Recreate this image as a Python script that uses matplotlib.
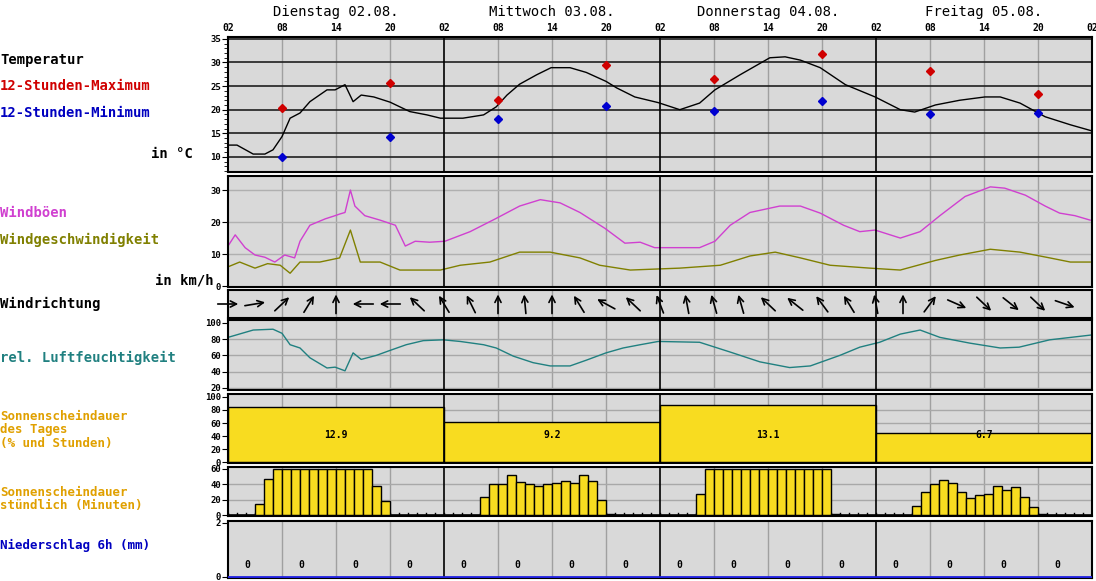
import matplotlib.pyplot as plt
import numpy as np

W, H = 1096, 581
plt.rcParams['font.family'] = ['DejaVu Sans Mono']
plt.rcParams['font.weight'] = 'bold'

days = ['Dienstag 02.08.', 'Mittwoch 03.08.', 'Donnerstag 04.08.', 'Freitag 05.08.']
hour_labels = ['02', '08', '14', '20']

# temperature, hours since Tue 02:00
temp_h = [0, 1, 2.8, 4.1, 5, 6, 6.9, 8, 9.1, 11, 11.9, 13, 13.9, 14.8, 16.2, 18, 20.2, 22.1, 23.6,
          26.1, 28.4, 29.8, 31, 32.4, 34.3, 35.9, 38, 39.8, 42, 43.2, 45.2, 47.8,
          50.2, 52.4, 54.1, 56.9, 60.2, 61.9, 63.6, 65.8, 68.6, 71.9, 74.7, 76.3, 78.6,
          81.3, 84.1, 85.8, 88, 90.8, 93.6, 96]
temp_v = [12.5, 12.5, 10.6, 10.6, 11.5, 14.3, 18.2, 19.3, 21.7, 24.2, 24.2, 25.3, 21.7, 23.1, 22.7, 21.6, 19.6, 18.9, 18.2,
          18.2, 18.9, 20.6, 23.1, 25.4, 27.4, 28.9, 28.9, 27.9, 26.0, 24.6, 22.7, 21.5,
          20.0, 21.4, 24.2, 27.4, 31.0, 31.2, 30.5, 28.9, 25.3, 22.7, 20.0, 19.5, 21.0,
          22.0, 22.7, 22.7, 21.4, 18.5, 16.8, 15.5]
ext_h = [6, 18, 30, 42, 54, 66, 78, 90]
tmax = [20.3, 25.6, 22.0, 29.5, 26.5, 31.8, 28.2, 23.3]
tmin = [10.0, 14.3, 18.0, 20.8, 19.8, 21.9, 19.0, 19.2]

# wind in km/h
gust_h = [0, 0.8, 1.9, 3, 4.1, 5.2, 6.3, 7.4, 8, 9.1, 10.8, 11.9, 12.4, 13, 13.6, 14.1, 15.2, 16.9, 18.6, 19.7,
          20.8, 22.4, 24.1, 26.9, 29.7, 32.4, 34.7, 36.9, 39.1, 41.9, 44.1, 45.8, 47.4, 49.1, 52.4, 54.1, 55.8,
          58, 61.3, 63.6, 65.8, 68.4, 70.2, 71.9, 74.7, 76.9, 79.1, 81.9, 84.7, 86.3, 88.6, 90.8, 92.4, 94.1, 95.8]
gust_v = [12.5, 16, 12, 9.7, 9, 7.5, 9.7, 8.8, 14, 19, 21, 22, 22.5, 23, 30, 25, 22, 20.6, 19,
          12.5, 14, 13.7, 14, 17, 21, 25, 27, 26, 23, 18, 13.4, 13.7, 12, 12, 12, 14, 19,
          23, 25, 25, 22.8, 19, 17, 17.5, 15, 17, 22, 28, 31, 30.6, 28.4, 25, 22.8, 22, 20.6]
speed_h = [0, 1.3, 3, 4.4, 5.8, 6.9, 8, 10.2, 12.4, 13.6, 14.7, 16.9, 19.1, 23.6, 25.8, 29.1, 32.4, 35.8,
           39.1, 41.3, 44.7, 50.2, 54.7, 58, 60.8, 63.6, 66.9, 71.3, 74.7, 78.6, 81.3, 84.7, 88, 91.3, 93.6, 95.8]
speed_v = [6, 7.5, 5.6, 7, 6.5, 4, 7.5, 7.5, 8.8, 17.5, 7.5, 7.5, 5, 5, 6.5, 7.5, 10.6, 10.6,
           8.8, 6.5, 5, 5.6, 6.5, 9.4, 10.6, 8.8, 6.5, 5.6, 5, 8, 9.7, 11.5, 10.6, 8.8, 7.5, 7.5]

# wind direction arrows every 3 h (direction of travel, degrees, 0 = east, 90 = north)
dir_h = list(range(0, 97, 3))
dir_deg = [0, 10, 45, 60, 90, 180, 180, 135, 120,
           115, 90, 95, 90, 120, 150, 135, 110,
           100, 105, 105, 135, 140, 125, 120, 100,
           90, 55, -25, -45, -40, -45, -20, 0]

# relative humidity %
hum_h = [0, 2.8, 5, 6, 6.9, 8, 9.1, 11, 11.9, 13, 13.9, 14.8, 16.5, 18, 19.8, 21.7, 23.9, 25.8, 28.4, 29.8,
         31.7, 33.9, 35.8, 38, 39.8, 42, 43.9, 45.8, 47.8, 52.4, 55.8, 59.1, 62.4, 64.7, 68, 70.2, 72.4,
         74.7, 76.9, 79.1, 82.4, 85.8, 87.9, 91.3, 96]
hum_v = [82, 91, 92, 87, 73, 69, 57, 44.5, 45.5, 41, 63, 55, 60, 66, 73, 78, 79, 77, 73, 69,
         59, 51, 47, 47, 54, 63, 69, 73, 77, 76, 64, 52, 45, 47, 60, 70, 76,
         86, 91, 82, 75, 69, 70, 79, 85]

# sunshine
sun_day_pct = [85, 61, 88, 45]
sun_day_hours = ['12.9', '9.2', '13.1', '6.7']
sun_hour_start = [3, 28, 52, 76]
sun_hour_min = [
    [15, 47, 60, 60, 60, 60, 60, 60, 60, 60, 60, 60, 60, 38, 18],
    [24, 40, 40, 52, 43, 41, 38, 40, 42, 44, 42, 52, 44, 20, 1],
    [28, 60, 60, 60, 60, 60, 60, 60, 60, 60, 60, 60, 60, 60, 60, 1],
    [12, 30, 40, 46, 42, 30, 22, 26, 28, 38, 32, 36, 24, 10, 1],
]
precip_h = [2.1 + 6 * i for i in range(16)]
precip_mm = [0] * 16

BG = '#d9d9d9'
fig = plt.figure(figsize=(W / 100, H / 100), dpi=100)
X0, X1 = 228, 1092


def panel(top, bot, ylim):
    ax = fig.add_axes([X0 / W, 1 - bot / H, (X1 - X0) / W, (bot - top) / H])
    ax.set_facecolor(BG)
    ax.set_xlim(0, 96)
    ax.set_ylim(*ylim)
    ax.set_xticks([])
    for s in ax.spines.values():
        s.set_linewidth(1.5)
    for h in range(6, 96, 6):
        if h % 24:
            ax.axvline(h, color='#a0a0a0', lw=1, zorder=0.5)
    for h in (24, 48, 72):
        ax.axvline(h, color='black', lw=1.2, zorder=3)
    ax.tick_params(axis='y', labelsize=6.5, length=4, pad=1)
    return ax


# temperature
ax = panel(37, 172, (6.8, 35.4))
ax.set_yticks(range(10, 36, 5))
ax.set_yticks(range(7, 36), minor=True)
ax.tick_params(axis='y', which='minor', length=3)
for v in range(10, 36, 5):
    ax.axhline(v, color='#202020', lw=1.2, zorder=0.6)
ax.plot(temp_h, temp_v, color='black', lw=1)
ax.plot(ext_h, tmax, 'D', color='#d00000', ms=4, zorder=4)
ax.plot(ext_h, tmin, 'D', color='#0000d0', ms=4, zorder=4)
for i, d in enumerate(days):
    ax.text(24 * i + 12, 40.6, d, ha='center', va='center', fontsize=10,
            fontweight='normal', clip_on=False)
for i in range(5):
    for j, hl in enumerate(hour_labels):
        h = 24 * i + 6 * j
        if h <= 96:
            ax.text(h, 36.3, hl, ha='center', va='bottom', fontsize=7, clip_on=False)

# wind
ax = panel(176, 287, (-0.3, 34.4))
ax.set_yticks([0, 10, 20, 30])
for v in (10, 20, 30):
    ax.axhline(v, color='#b0b0b0', lw=1, zorder=0.6)
ax.plot(gust_h, gust_v, color='#d040d0', lw=1)
ax.plot(speed_h, speed_v, color='#808000', lw=1)

# direction
ax = panel(290, 318, (0, 1))
ax.set_yticks([])
for h, d in zip(dir_h, dir_deg):
    dx = np.cos(np.radians(d)) * 1.45
    dy = np.sin(np.radians(d)) * 0.44
    ax.annotate('', xy=(h + dx, 0.5 + dy), xytext=(h - dx, 0.5 - dy),
                arrowprops=dict(arrowstyle='->', color='black', lw=1.2, mutation_scale=11), annotation_clip=True)

# humidity
ax = panel(320, 390, (17.5, 103.3))
ax.set_yticks([20, 40, 60, 80, 100])
for v in (20, 40, 60, 80):
    ax.axhline(v, color='#a8a8a8', lw=1, zorder=0.6)
ax.plot(hum_h, hum_v, color='#208080', lw=1)

# daily sunshine
ax = panel(394, 463, (-1.5, 104.6))
ax.set_yticks(range(0, 101, 20))
for v in range(20, 100, 20):
    ax.axhline(v, color='#a8a8a8', lw=1, zorder=0.6)
ax.bar([24 * i for i in range(4)], sun_day_pct, width=24, align='edge', color='#f8dc20',
       edgecolor='black', lw=1, zorder=2)
for i, t in enumerate(sun_day_hours):
    ax.text(24 * i + 12, 42, t, ha='center', va='center', fontsize=7, zorder=4)

# hourly sunshine
ax = panel(467, 516, (-1.3, 62.6))
ax.set_yticks([0, 20, 40, 60])
for v in (20, 40):
    ax.axhline(v, color='#a8a8a8', lw=1, zorder=0.6)
ax.axhline(0, color='black', lw=1.2, zorder=1)
for h in range(97):
    ax.plot([h, h], [0, 2.5], color='black', lw=1, zorder=1)
for s, vals in zip(sun_hour_start, sun_hour_min):
    ax.bar(np.arange(s, s + len(vals)), vals, width=1, align='edge', color='#f8dc20',
           edgecolor='black', lw=1, zorder=2)

# precipitation
ax = panel(521, 578, (-0.04, 2.07))
ax.set_yticks([0, 2])
ax.axhline(0, color='#2020e0', lw=2, zorder=4)
for h, v in zip(precip_h, precip_mm):
    ax.text(h, 0.45, str(v), ha='center', va='center', fontsize=7)

# left labels
def label(y, s, c='black', x=0, ha='left', fs=10):
    fig.text(x / W, 1 - y / H, s, color=c, ha=ha, va='center', fontsize=fs, fontweight='bold')

label(60, 'Temperatur')
label(86, '12-Stunden-Maximum', '#d00000')
label(113, '12-Stunden-Minimum', '#0000c0')
label(154, 'in °C', x=193, ha='right')
label(213, 'Windböen', '#d040d0')
label(240, 'Windgeschwindigkeit', '#808000')
label(280, 'in km/h', x=214, ha='right')
label(304, 'Windrichtung')
label(358, 'rel. Luftfeuchtigkeit', '#208080')
label(416, 'Sonnenscheindauer', '#e0a000', fs=9)
label(430, 'des Tages', '#e0a000', fs=9)
label(444, '(% und Stunden)', '#e0a000', fs=9)
label(492, 'Sonnenscheindauer', '#e0a000', fs=9)
label(506, 'stündlich (Minuten)', '#e0a000', fs=9)
label(545, 'Niederschlag 6h (mm)', '#0000c0', fs=9)

fig.savefig('out.png', dpi=100)
